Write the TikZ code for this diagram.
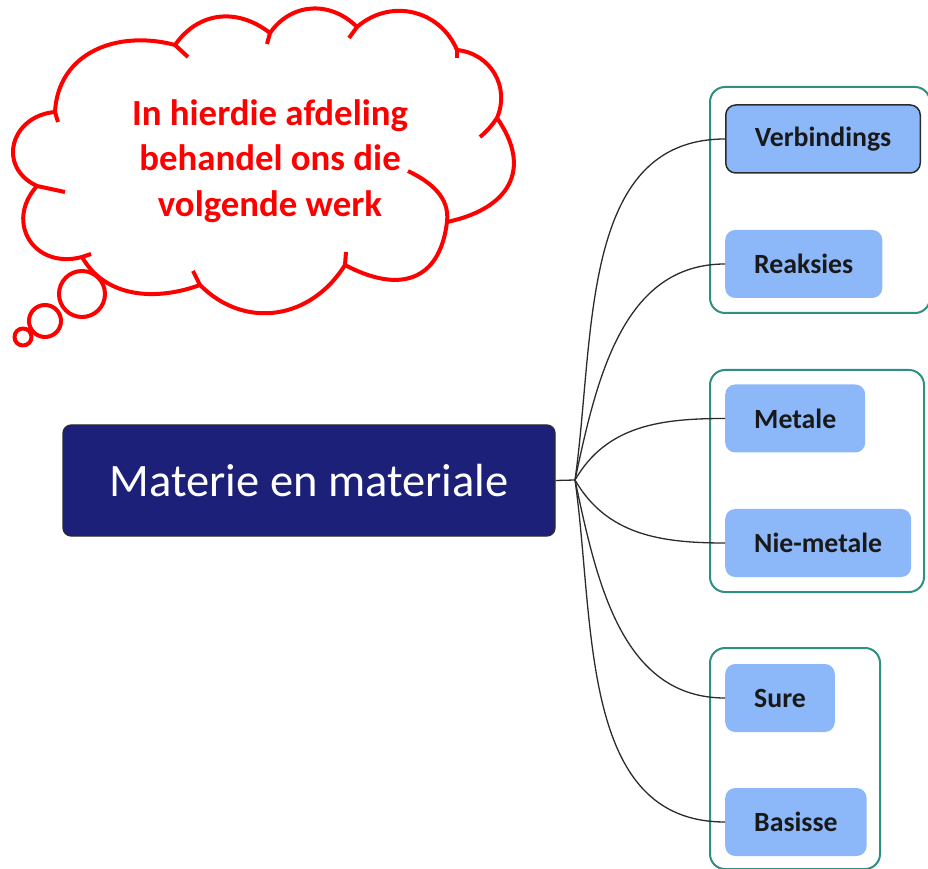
\documentclass[tikz,border=0pt]{standalone}
\usepackage{fontspec}
\setmainfont{Carlito}
\usepackage{tikz}
\usetikzlibrary{positioning}

\definecolor{topicnavy}{HTML}{1C2079}
\definecolor{leafblue}{HTML}{8CB8FA}
\definecolor{groupteal}{HTML}{2E8F82}
\definecolor{linkgrey}{HTML}{2B2B2B}

\tikzset{
    topic/.style = {draw=linkgrey, line width=1.2pt, fill=topicnavy, rounded corners=8pt,
        text=white, font=\fontsize{46.5}{54}\selectfont,
        minimum width=492pt, minimum height=111pt},
    leaf/.style = {fill=leafblue, rounded corners=10pt, anchor=west, text=black!90,
        font=\bfseries\fontsize{27.8}{32}\selectfont,
        minimum height=68pt, inner xsep=29pt},
    link/.style = {draw=linkgrey, line width=1.3pt},
    group/.style = {draw=groupteal, line width=2pt, rounded corners=15pt},
    puff/.style = {draw=red, line width=4pt, line join=round},
    thought/.style = {text=red, align=center, font=\bfseries\fontsize{36.8}{45.5}\selectfont}
}

\begin{document}
\begin{tikzpicture}[x=1pt, y=1pt]
    \useasboundingbox (0,0) rectangle (928,868);
    \clip (0,0) rectangle (928,868);

    % frames round the pairs
    \draw[group] (710,555) rectangle (930,781);
    \draw[group] (710,276) rectangle (924,498);
    \draw[group] (710,-1) rectangle (880,220);

    \node[topic] (main) at (309,387.5) {Materie en materiale};
    \coordinate (hub) at (575,388);

    \node[leaf, draw=linkgrey, line width=1.5pt] (verb) at (725,729) {Verbindings};
    \node[leaf] (reak) at (725,604) {Reaksies};
    \node[leaf] (met) at (725,449.5) {Metale};
    \node[leaf] (niemet) at (725,325) {Nie-metale};
    \node[leaf] (suur) at (725,170) {Sure};
    \node[leaf] (basis) at (725,46) {Basisse};

    \draw[link] (main.east) -- (hub);
    \draw[link] (hub) to[out=82, in=180] (verb.west);
    \draw[link] (hub) to[out=78, in=180] (reak.west);
    \draw[link] (hub) to[out=60, in=180] (met.west);
    \draw[link] (hub) to[out=-60, in=180] (niemet.west);
    \draw[link] (hub) to[out=-78, in=180] (suur.west);
    \draw[link] (hub) to[out=-82, in=180] (basis.west);

    % thought cloud, one arc per puff
    \draw[puff] (37,682) to[out=155, in=185, looseness=1.5] (55,756)
        to[out=87, in=165, looseness=1.11] (175,823)
        to[out=55, in=142, looseness=1.1] (270,835)
        to[out=55, in=135, looseness=1.1] (357,841)
        to[out=41, in=113, looseness=1.1] (457,818)
        to[out=-6, in=67, looseness=1.1] (497,750)
        to[out=-55, in=12, looseness=1.4] (447,646)
        to[out=-97, in=-28, looseness=1.4] (345,603)
        to[out=-122, in=-45, looseness=1.12] (200,583)
        to[out=-160, in=-60] (82,611)
        to[out=195, in=228, looseness=1.5] (37,682);
    % short inner ends of the puffs
    \draw[puff] (37,682) -- (65,676);
    \draw[puff] (55,756) -- (58,746);
    \draw[puff] (175,823) -- (188,811);
    \draw[puff] (270,835) -- (267,824);
    \draw[puff] (357,841) -- (349,830);
    \draw[puff] (457,818) -- (457,810);
    \draw[puff] (497,750) to[out=-125, in=40] (480,731);
    \draw[puff] (447,646) to[out=83, in=-26] (408,697);
    \draw[puff] (345,603) -- (346,616);
    \draw[puff] (200,583) -- (193,597);
    \draw[puff] (82,611) -- (91,614);
    % bubbles
    \draw[puff] (82,574) circle[radius=23pt];
    \draw[puff] (45,547) circle[radius=16pt];
    \draw[puff] (23,531) circle[radius=8.5pt];

    \node[thought] (note) at (270,707) {In hierdie afdeling\\behandel ons die\\volgende werk};
\end{tikzpicture}
\end{document}
